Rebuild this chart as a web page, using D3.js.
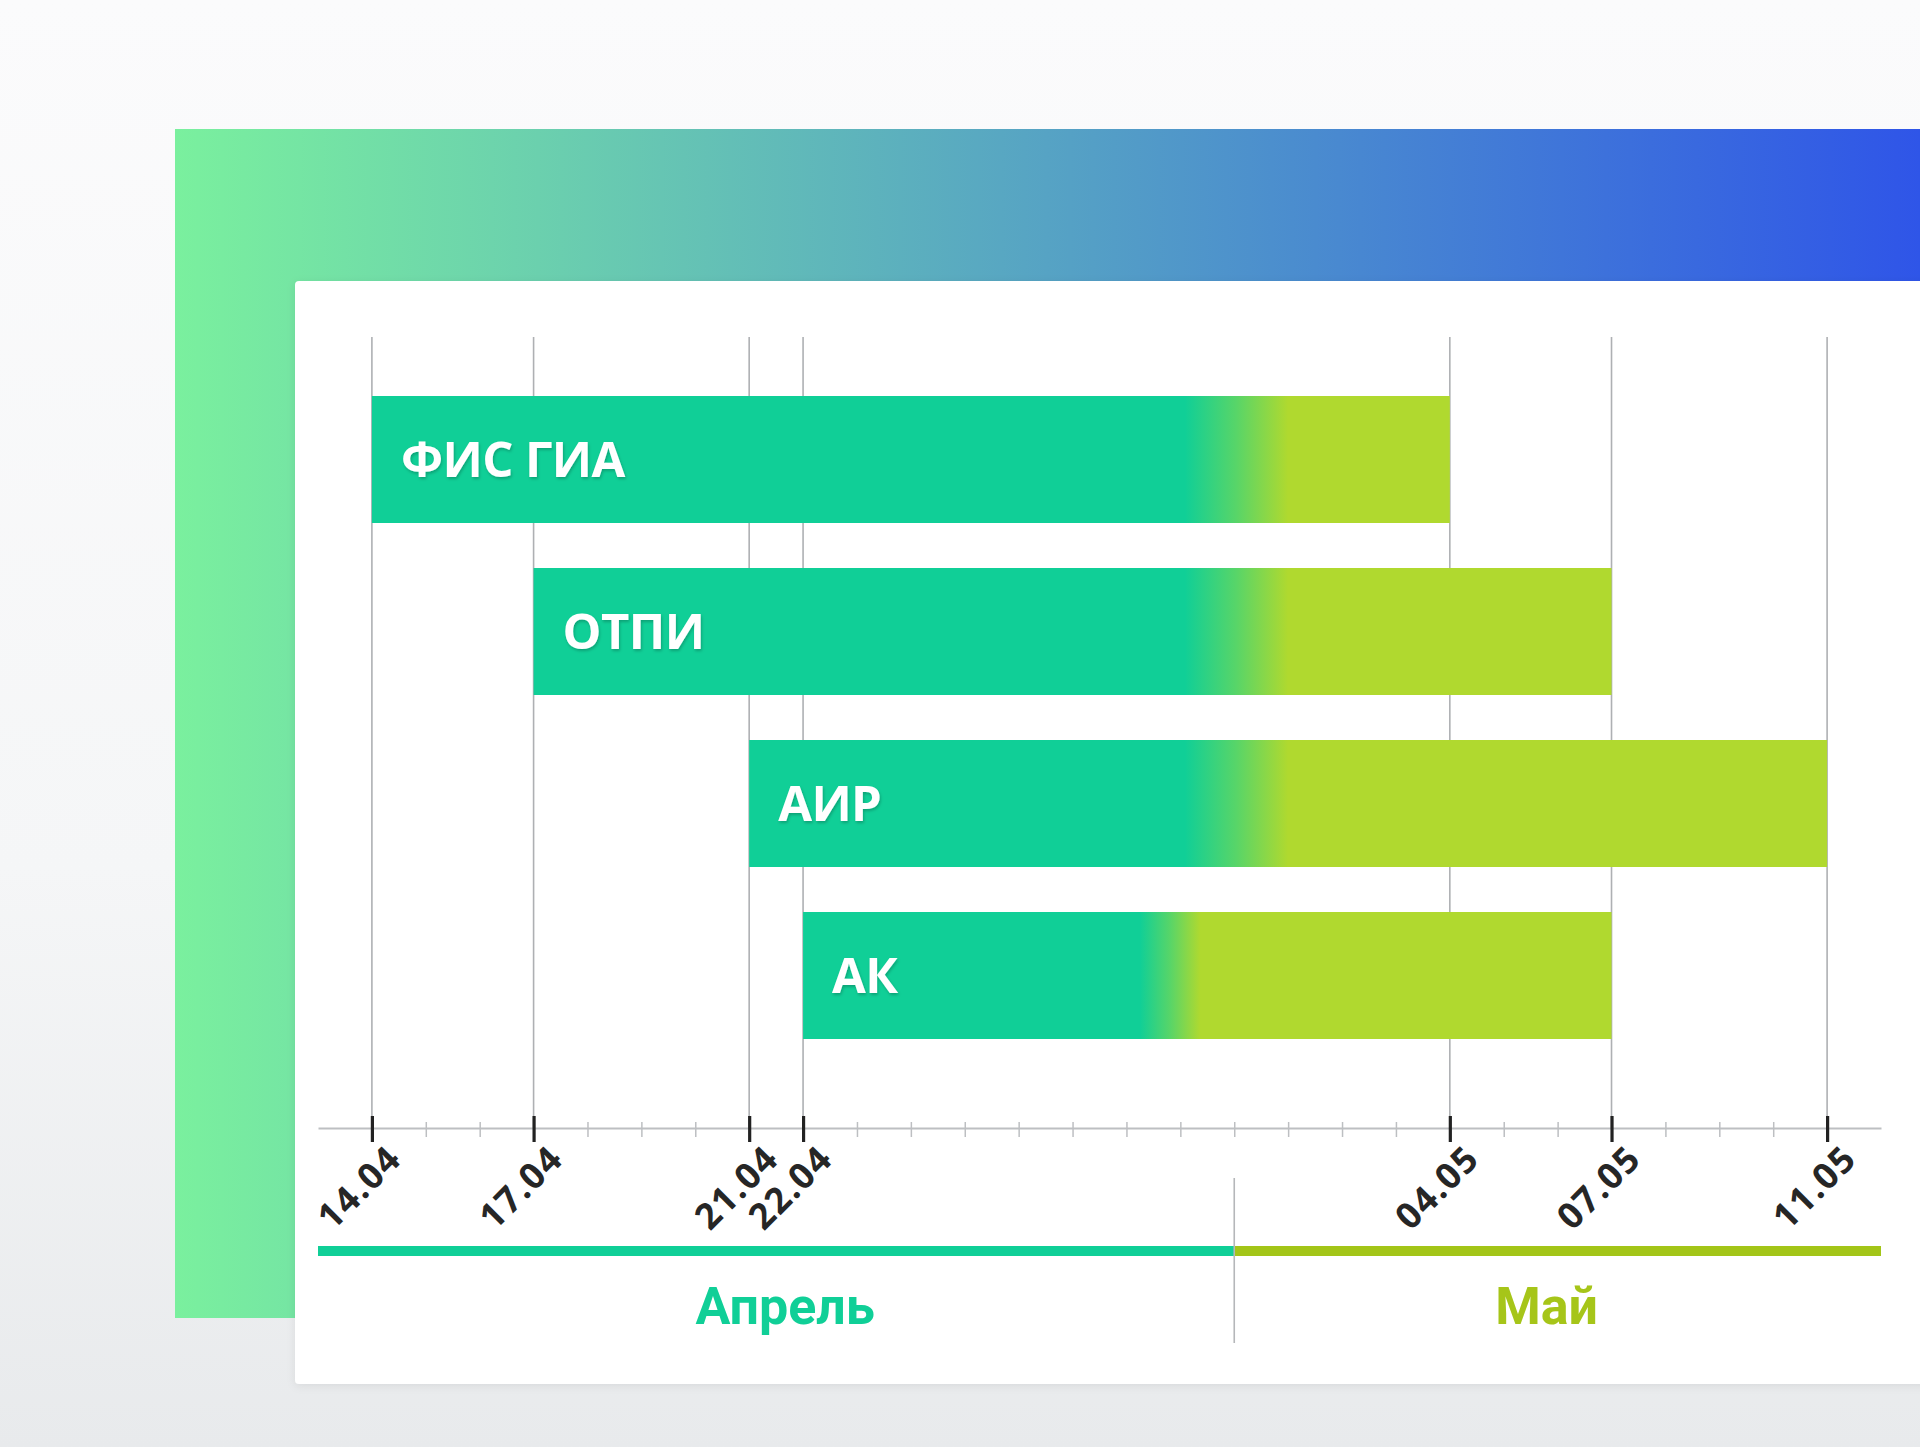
<!DOCTYPE html>
<html>
<head>
<meta charset="utf-8">
<script src="https://cdn.jsdelivr.net/npm/d3@7"></script>
<style>
  html, body { margin: 0; padding: 0; background: #f4f5f6; }
  svg { display: block; }
</style>
</head>
<body>
<div id="chart"></div>
<script>
// ---------- data ----------
const tasks      = ["ФИС ГИА", "ОТПИ", "АИР", "АК"];
const startDates = ["2024-04-14", "2024-04-17", "2024-04-21", "2024-04-22"];
const endDates   = ["2024-05-04", "2024-05-07", "2024-05-11", "2024-05-07"];
// where each bar's colour changes from teal (April) to lime (May)
const fadeStarts = ["2024-04-29T02:00", "2024-04-29T02:00", "2024-04-29T02:00", "2024-04-28T06:00"];
const fadeEnds   = ["2024-05-01T00:00", "2024-05-01T00:00", "2024-05-01T00:00", "2024-04-29T09:00"];
const tickDates  = ["2024-04-14", "2024-04-17", "2024-04-21", "2024-04-22", "2024-05-04", "2024-05-07", "2024-05-11"];
const axisDomain = ["2024-04-13", "2024-05-12"];
const months     = ["Апрель", "Май"];
const monthBounds = ["2024-04-13", "2024-04-30", "2024-05-12"];

// ---------- setup ----------
const W = 1920, H = 1447;
const parse = d3.isoParse;
const teal = "#10cf97", lime = "#b0d92f", limeDark = "#a3c518";

const svg = d3.select("#chart").append("svg")
  .attr("width", W).attr("height", H);
const defs = svg.append("defs");

// background
const bg = defs.append("linearGradient").attr("id", "bg")
  .attr("x1", 0).attr("y1", 0).attr("x2", 0).attr("y2", 1);
bg.append("stop").attr("offset", 0).attr("stop-color", "#fbfbfc");
bg.append("stop").attr("offset", 0.6).attr("stop-color", "#f5f6f7");
bg.append("stop").attr("offset", 1).attr("stop-color", "#e8eaec");
svg.append("rect").attr("width", W).attr("height", H).attr("fill", "url(#bg)");

// frame gradient
const fg = defs.append("linearGradient").attr("id", "frame")
  .attr("x1", 0).attr("y1", 0).attr("x2", 1).attr("y2", 0);
fg.append("stop").attr("offset", 0).attr("stop-color", "#7af09e");
fg.append("stop").attr("offset", 0.5).attr("stop-color", "#56a3c4");
fg.append("stop").attr("offset", 1).attr("stop-color", "#2f55e8");
svg.append("rect").attr("x", 175).attr("y", 129).attr("width", W - 175).attr("height", 1318 - 129)
  .attr("fill", "url(#frame)");

// panel shadow + panel
const sh = defs.append("filter").attr("id", "psh").attr("x", -0.05).attr("y", -0.05).attr("width", 1.1).attr("height", 1.1);
sh.append("feDropShadow").attr("dx", 0).attr("dy", 2).attr("stdDeviation", 4).attr("flood-color", "#000").attr("flood-opacity", 0.08);
svg.append("rect").attr("x", 295).attr("y", 281).attr("width", W - 295 + 20).attr("height", 1384 - 281)
  .attr("rx", 4).attr("fill", "#ffffff").attr("filter", "url(#psh)");

// scales
const x = d3.scaleUtc().domain(axisDomain.map(parse)).range([318, 1881]);
const y = d3.scaleBand().domain(tasks).range([373.5, 1061.5])
  .paddingInner(45 / 172).paddingOuter(45 / 344);
const axisY = 1128;
const gridTop = 337;

// grid lines
svg.append("g").selectAll("line").data(tickDates).join("line")
  .attr("x1", d => x(parse(d))).attr("x2", d => x(parse(d)))
  .attr("y1", gridTop).attr("y2", axisY)
  .attr("stroke", "#aeb0b3").attr("stroke-width", 1.6);

// bar gradients
tasks.forEach((t, i) => {
  const g = defs.append("linearGradient").attr("id", "bar" + i)
    .attr("gradientUnits", "userSpaceOnUse")
    .attr("x1", x(parse(fadeStarts[i]))).attr("x2", x(parse(fadeEnds[i])))
    .attr("y1", 0).attr("y2", 0);
  g.append("stop").attr("offset", 0).attr("stop-color", teal);
  g.append("stop").attr("offset", 0.5).attr("stop-color", "#58d568");
  g.append("stop").attr("offset", 1).attr("stop-color", lime);
});

// bars
const barData = tasks.map((t, i) => ({ t, i, s: parse(startDates[i]), e: parse(endDates[i]) }));
svg.append("g").selectAll("rect").data(barData).join("rect")
  .attr("x", d => x(d.s)).attr("width", d => x(d.e) - x(d.s))
  .attr("y", d => y(d.t)).attr("height", y.bandwidth())
  .attr("fill", d => "url(#bar" + d.i + ")");

// labels
const ts = defs.append("filter").attr("id", "tsh").attr("x", -0.1).attr("y", -0.2).attr("width", 1.2).attr("height", 1.5);
ts.append("feDropShadow").attr("dx", 1).attr("dy", 2).attr("stdDeviation", 1.5).attr("flood-color", "#000").attr("flood-opacity", 0.22);
svg.append("g").selectAll("text").data(barData).join("text")
  .attr("x", d => x(d.s) + 29)
  .attr("y", d => y(d.t) + y.bandwidth() / 2 + 17.5)
  .attr("fill", "#ffffff")
  .attr("font-family", "'Open Sans', sans-serif")
  .attr("font-weight", 700)
  .attr("font-size", 49)
  .attr("letter-spacing", -0.6)
  .attr("filter", "url(#tsh)")
  .text(d => d.t);

// axis: minor ticks (every day, not at the axis ends)
const domainDates = x.domain();
const minorDates = d3.utcDay.range(d3.utcDay.offset(domainDates[0], 1), domainDates[1]);
const minor = svg.append("g").attr("transform", `translate(0,${axisY})`)
  .call(d3.axisBottom(x).tickValues(minorDates).tickSize(9).tickSizeOuter(0).tickFormat(""));
minor.select(".domain").attr("stroke", "#bdbfc2").attr("stroke-width", 2);
minor.selectAll(".tick line").attr("y1", -6).attr("stroke", "#bdbfc2").attr("stroke-width", 1.5);

// axis: major ticks
const major = svg.append("g").attr("transform", `translate(0,${axisY})`)
  .call(d3.axisBottom(x).tickValues(tickDates.map(parse)).tickSize(14).tickSizeOuter(0)
    .tickFormat(d3.utcFormat("%d.%m")));
major.select(".domain").remove();
major.selectAll(".tick line").attr("y1", -12).attr("stroke", "#222").attr("stroke-width", 3.2);
major.selectAll(".tick text")
  .attr("fill", "#262626")
  .attr("font-family", "'Open Sans', sans-serif")
  .attr("font-weight", 700)
  .attr("font-size", 36)
  .attr("letter-spacing", 1.5)
  .attr("text-anchor", "end")
  .attr("dy", 0)
  .attr("y", 0)
  .attr("transform", "translate(31,33) rotate(-45)");

// month bars
const monthY = 1251;
const mData = months.map((m, i) => ({ m, i, a: parse(monthBounds[i]), b: parse(monthBounds[i + 1]) }));
const mColors = [teal, limeDark];
svg.append("g").selectAll("line").data(mData).join("line")
  .attr("x1", d => x(d.a)).attr("x2", d => x(d.b))
  .attr("y1", monthY).attr("y2", monthY)
  .attr("stroke", d => mColors[d.i]).attr("stroke-width", 10);

// divider
svg.append("line")
  .attr("x1", x(parse(monthBounds[1]))).attr("x2", x(parse(monthBounds[1])))
  .attr("y1", 1178).attr("y2", 1343)
  .attr("stroke", "#b5b7ba").attr("stroke-width", 1.6);

const mShift = [9, -11];
svg.append("g").selectAll("text").data(mData).join("text")
  .attr("x", d => (x(d.a) + x(d.b)) / 2 + mShift[d.i])
  .attr("y", 1324)
  .attr("text-anchor", "middle")
  .attr("fill", d => d.i === 0 ? teal : "#a6c519")
  .attr("font-family", "Roboto, sans-serif")
  .attr("font-weight", 700)
  .attr("font-size", 52)
  .text(d => d.m);
</script>
</body>
</html>
